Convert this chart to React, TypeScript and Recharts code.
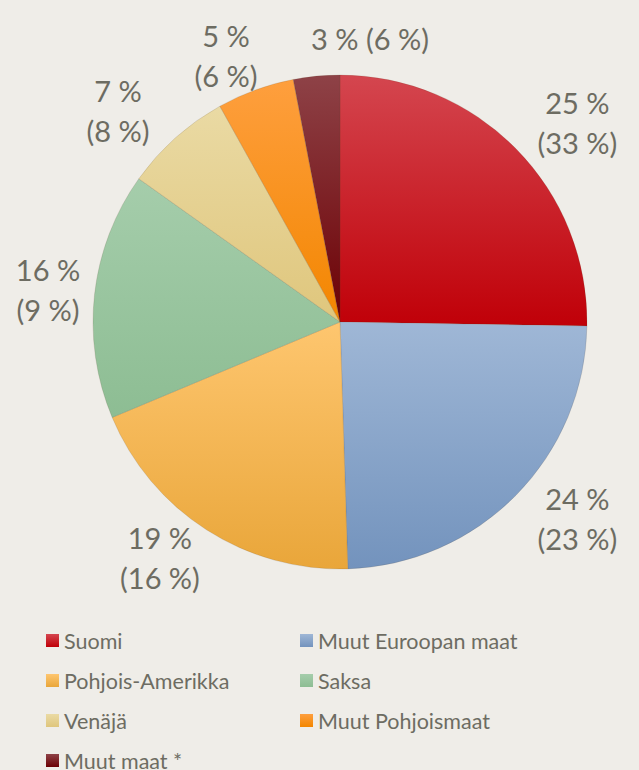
import { PieChart, Pie, Cell } from 'recharts'

const categories = [
  'Suomi',
  'Muut Euroopan maat',
  'Pohjois-Amerikka',
  'Saksa',
  'Venäjä',
  'Muut Pohjoismaat',
  'Muut maat *',
]
const shares = [25, 24, 19, 16, 7, 5, 3]
const previousShares = [33, 23, 16, 9, 8, 6, 6]

const GRADIENTS: [string, string][] = [
  ['#d4464f', '#c00008'],
  ['#9fb7d6', '#7393bd'],
  ['#fec66f', '#e9a63a'],
  ['#a5cdab', '#8dbd93'],
  ['#eadaa4', '#dfc67c'],
  ['#fe9f3e', '#f38600'],
  ['#8e4247', '#6c0004'],
]

const TEXT = '#6d6c62'
const BG = '#efede8'
const FONT = 'Lato, "Open Sans", sans-serif'
const W = 639

const data = categories.map((name, i) => ({
  name,
  value: shares[i],
  prev: previousShares[i],
}))

const RADIAN = Math.PI / 180

function SliceLabel(props: any) {
  const { cx, cy, midAngle, outerRadius, index } = props
  const d = data[index]
  const a = `${d.value} %`
  const b = `(${d.prev} %)`
  if (index === data.length - 1) {
    // small slice at the top: one line, nudged right
    return (
      <text
        x={cx + 30}
        y={cy - outerRadius - 37}
        fill={TEXT}
        fontSize={29}
        fontFamily={FONT}
        textAnchor="middle"
        dominantBaseline="central"
      >
        {a} {b}
      </text>
    )
  }
  // labels sit on a wider-than-tall ellipse around the pie, kept inside the frame
  const rx = outerRadius + 86
  const ry = outerRadius + 35
  let x = cx + rx * Math.cos(-midAngle * RADIAN)
  const y = cy + ry * Math.sin(-midAngle * RADIAN)
  x = Math.max(48, Math.min(W - 48, x))
  return (
    <text x={x} y={y} fill={TEXT} fontSize={29} fontFamily={FONT} textAnchor="middle">
      <tspan x={x} dy={-10}>
        {a}
      </tspan>
      <tspan x={x} dy={40}>
        {b}
      </tspan>
    </text>
  )
}

function LegendBox() {
  return (
    <div
      style={{
        position: 'absolute',
        left: 46,
        top: 627,
        display: 'grid',
        gridTemplateColumns: '254px 320px',
        rowGap: 13,
        fontFamily: FONT,
        fontSize: 21.5,
        color: TEXT,
      }}
    >
      {data.map((d, i) => (
        <div
          key={d.name}
          style={{ display: 'flex', alignItems: 'center', height: 27, whiteSpace: 'nowrap' }}
        >
          <span
            style={{
              width: 13,
              height: 13,
              marginRight: 5,
              background: `linear-gradient(${GRADIENTS[i][0]}, ${GRADIENTS[i][1]})`,
              display: 'inline-block',
            }}
          />
          {d.name}
        </div>
      ))}
    </div>
  )
}

export default function App() {
  return (
    <div
      style={{
        position: 'fixed',
        left: 0,
        top: 0,
        width: W,
        height: 770,
        background: BG,
        overflow: 'hidden',
      }}
    >
      {/* gradients in their own svg so the ids are always in the page */}
      <svg width={0} height={0} style={{ position: 'absolute' }}>
        <defs>
          {GRADIENTS.map(([top, bottom], i) => (
            <linearGradient key={i} id={`g${i}`} x1="0" y1="0" x2="0" y2="1">
              <stop offset="0%" stopColor={top} />
              <stop offset="100%" stopColor={bottom} />
            </linearGradient>
          ))}
        </defs>
      </svg>
      <PieChart width={W} height={770} margin={{ top: 0, right: 0, bottom: 0, left: 0 }}>
        <Pie
          data={data}
          dataKey="value"
          nameKey="name"
          cx={340}
          cy={322}
          outerRadius={247}
          startAngle={90}
          endAngle={-270}
          stroke="rgba(90,70,40,0.25)"
          strokeWidth={0.6}
          label={SliceLabel}
          labelLine={false}
          isAnimationActive={false}
        >
          {data.map((d, i) => (
            <Cell key={d.name} fill={`url(#g${i})`} />
          ))}
        </Pie>
      </PieChart>
      <LegendBox />
    </div>
  )
}
